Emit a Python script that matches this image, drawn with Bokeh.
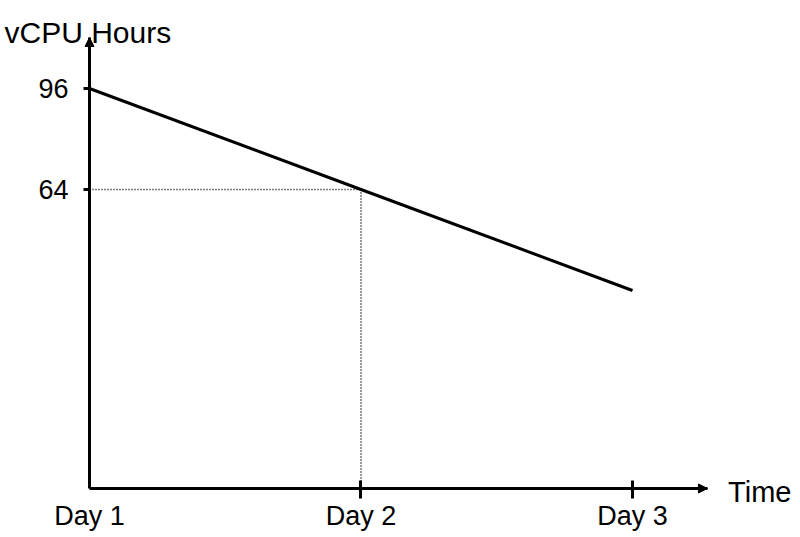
from bokeh.plotting import figure
from bokeh.models import Range1d, FixedTicker, Arrow, NormalHead, Label
from bokeh.embed import file_html
from bokeh.resources import INLINE

# ---- data ----
days = [1, 2, 3]
day_labels = ["Day 1", "Day 2", "Day 3"]
vcpu_hours = [96, 64, 32]
y_ticks = [96, 64]
x_title = "Time"
y_title = "vCPU Hours"

FONT = "Liberation Sans"
# view ranges (layout)
X_START, X_END = 0.6722, 3.6188
Y_START, Y_END = -46.26, 123.88
# axis extents (layout)
X_AXIS_END = 3.276
Y_AXIS_BOTTOM = -30.73
Y_AXIS_TOP = 112.16

p = figure(width=800, height=537, output_backend="svg", toolbar_location=None,
           title=None,
           x_range=Range1d(X_START, X_END), y_range=Range1d(Y_START, Y_END),
           min_border=0)
p.outline_line_color = None
p.grid.visible = False
p.background_fill_color = "white"
p.border_fill_color = "white"

# main line
p.line(days, vcpu_hours, line_color="black", line_width=3)

# dotted guides to Day 2
p.segment(x0=[days[0], days[1]], y0=[vcpu_hours[1], vcpu_hours[1]],
          x1=[days[1], days[1]], y1=[vcpu_hours[1], Y_AXIS_BOTTOM],
          line_color="black", line_width=1.6, line_dash="1 2")

# x axis
xa = p.xaxis[0]
xa.fixed_location = Y_AXIS_BOTTOM
xa.bounds = (days[0], X_AXIS_END)
xa.ticker = FixedTicker(ticks=days, minor_ticks=days[1:])
xa.major_label_overrides = {d: l for d, l in zip(days, day_labels)}
xa.axis_line_width = 3
xa.axis_line_color = "black"
xa.major_tick_in = 0
xa.major_tick_out = 0
xa.minor_tick_in = 8
xa.minor_tick_out = 10
xa.minor_tick_line_width = 3
xa.minor_tick_line_color = "black"
xa.major_label_standoff = 3
xa.major_label_text_font = FONT
xa.major_label_text_font_size = "27px"
xa.major_label_text_color = "black"

# y axis
ya = p.yaxis[0]
ya.fixed_location = days[0]
ya.bounds = (Y_AXIS_BOTTOM, Y_AXIS_TOP)
ya.ticker = FixedTicker(ticks=y_ticks)
ya.axis_line_width = 3
ya.axis_line_color = "black"
ya.major_tick_in = 1
ya.major_tick_out = 6
ya.major_tick_line_width = 3
ya.major_tick_line_color = "black"
ya.minor_tick_line_color = None
ya.major_label_standoff = 15
ya.major_label_text_font = FONT
ya.major_label_text_font_size = "27px"
ya.major_label_text_color = "black"

# arrow heads
p.add_layout(Arrow(end=NormalHead(size=9, fill_color="black", line_color="black", line_width=1),
                   x_start=3.2, y_start=Y_AXIS_BOTTOM, x_end=X_AXIS_END, y_end=Y_AXIS_BOTTOM,
                   line_color=None))
p.add_layout(Arrow(end=NormalHead(size=9, fill_color="black", line_color="black", line_width=1),
                   x_start=days[0], y_start=100, x_end=days[0], y_end=Y_AXIS_TOP,
                   line_color=None))

# axis titles
p.add_layout(Label(x=0.687, y=113.74, text=y_title, text_font=FONT, text_font_size="30px",
                   text_color="black", text_align="left", text_baseline="alphabetic"))
p.add_layout(Label(x=3.352, y=-32, text=x_title, text_font=FONT, text_font_size="29px",
                   text_color="black", text_align="left", text_baseline="alphabetic"))

open("out.html", "w").write(file_html(p, INLINE))
